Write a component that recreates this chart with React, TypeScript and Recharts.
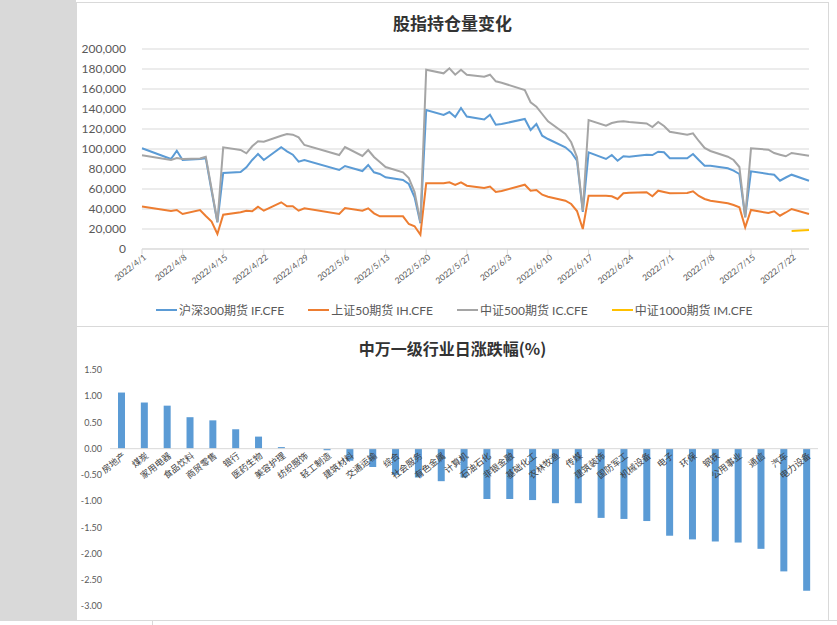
import React from 'react';
import {
  LineChart,
  Line,
  BarChart,
  Bar,
  XAxis,
  YAxis,
  CartesianGrid,
  ReferenceLine,
} from 'recharts';

const FONT = "Lato, 'Noto Sans CJK SC', sans-serif";
const CJK = "'Noto Sans CJK SC', sans-serif";
const AXIS_TEXT = '#595959';
const GRID = '#d9d9d9';
const LABEL_ANGLE = -38;

// 交易日
const tradeDates = [
  '2022/4/1', '2022/4/6', '2022/4/7', '2022/4/8', '2022/4/11', '2022/4/12', '2022/4/13', '2022/4/14', '2022/4/15',
  '2022/4/18', '2022/4/19', '2022/4/20', '2022/4/21', '2022/4/22', '2022/4/25', '2022/4/26', '2022/4/27', '2022/4/28', '2022/4/29',
  '2022/5/5', '2022/5/6', '2022/5/9', '2022/5/10', '2022/5/11', '2022/5/12', '2022/5/13', '2022/5/16', '2022/5/17',
  '2022/5/18', '2022/5/19', '2022/5/20', '2022/5/23', '2022/5/24', '2022/5/25', '2022/5/26', '2022/5/27', '2022/5/30', '2022/5/31',
  '2022/6/1', '2022/6/2', '2022/6/6', '2022/6/7', '2022/6/8', '2022/6/9', '2022/6/10', '2022/6/13', '2022/6/14', '2022/6/15',
  '2022/6/16', '2022/6/17', '2022/6/20', '2022/6/21', '2022/6/22', '2022/6/23', '2022/6/24', '2022/6/27', '2022/6/28', '2022/6/29', '2022/6/30',
  '2022/7/1', '2022/7/4', '2022/7/5', '2022/7/6', '2022/7/7', '2022/7/8', '2022/7/11', '2022/7/12', '2022/7/13', '2022/7/14',
  '2022/7/15', '2022/7/18', '2022/7/19', '2022/7/20', '2022/7/21', '2022/7/22', '2022/7/25',
];

// 沪深300期货 IF.CFE
const ifOI = [
  100700, 90000, 98300, 89000, 90000, 90700, 58000, 26700, 76000,
  77000, 81700, 89000, 95000, 89000, 101700, 97700, 94300, 87300, 89000,
  79000, 83000, 78000, 84000, 76700, 75000, 71700, 69000, 65000,
  51700, 25700, 139000, 134000, 137000, 132000, 141000, 132500, 129500, 134300,
  124300, 125000, 130000, 119000, 125000, 113300, 110000, 101700, 96700, 88300,
  37000, 96700, 90000, 94000, 88300, 92700, 92300, 94300, 94000, 97300, 96700,
  90700, 90700, 95000, 89000, 83300, 83300, 80700, 78300, 75000, 32000,
  77700, 75000, 74300, 68300, 71500, 74300, 68300,
];

// 上证50期货 IH.CFE
const ihOI = [
  42500, 38000, 39000, 35000, 39000, 33000, 27500, 15000, 34300,
  36700, 38300, 37700, 42300, 38300, 46700, 42700, 42700, 38300, 40700,
  35000, 41000, 38300, 40700, 35700, 32700, 32700, 32700, 25000,
  22700, 14300, 65700, 65700, 66700, 64000, 66700, 63300, 61000, 62500,
  57000, 58000, 64300, 58300, 59000, 54300, 52300, 48300, 45000, 38000,
  20000, 53300, 53300, 52700, 50000, 55700, 56300, 56700, 52700, 58300, 57000,
  55700, 56000, 57700, 53000, 50000, 48300, 45700, 44000, 41700, 21700,
  39000, 36000, 37700, 33300, 36500, 40000, 35000,
];

// 中证500期货 IC.CFE
const icOI = [
  93700, 89000, 91000, 90000, 90500, 92300, 60000, 27000, 101700,
  99000, 95700, 102700, 107700, 107300, 113300, 115000, 114300, 111700, 104000,
  94000, 102000, 93000, 99000, 92000, 87000, 82000, 76700, 71000,
  57000, 27000, 179300, 175700, 180700, 174300, 179300, 174300, 172300, 174300,
  167700, 166300, 159000, 146700, 142300, 135000, 127700, 115000, 106700, 91700,
  38300, 129000, 123300, 126000, 127300, 127700, 127000, 125500, 122000, 127000, 123000,
  117300, 114300, 115700, 108000, 101000, 98000, 92300, 89000, 82000, 31700,
  100700, 99300, 96000, 94300, 92700, 96000, 93300,
];

// 中证1000期货 IM.CFE（7/22 上市）
const imDates = ['2022/7/22', '2022/7/25'];
const imOI = [18000, 19000];

const xTickDates = [
  '2022/4/1', '2022/4/8', '2022/4/15', '2022/4/22', '2022/4/29', '2022/5/6', '2022/5/13', '2022/5/20', '2022/5/27',
  '2022/6/3', '2022/6/10', '2022/6/17', '2022/6/24', '2022/7/1', '2022/7/8', '2022/7/15', '2022/7/22',
];
const oiTicks = [0, 20000, 40000, 60000, 80000, 100000, 120000, 140000, 160000, 180000, 200000];

// 申万一级行业
const industries = [
  '房地产', '煤炭', '家用电器', '食品饮料', '商贸零售', '银行', '医药生物', '美容护理', '纺织服饰', '轻工制造',
  '建筑材料', '交通运输', '综合', '社会服务', '有色金属', '计算机', '石油石化', '非银金融', '基础化工', '农林牧渔',
  '传媒', '建筑装饰', '国防军工', '机械设备', '电子', '环保', '钢铁', '公用事业', '通信', '汽车', '电力设备',
];
const industryChg = [
  1.07, 0.88, 0.82, 0.6, 0.54, 0.37, 0.23, 0.03, 0.0, -0.03,
  -0.23, -0.35, -0.5, -0.55, -0.62, -0.55, -0.96, -0.96, -0.98, -1.04,
  -1.04, -1.32, -1.34, -1.38, -1.66, -1.73, -1.77, -1.79, -1.91, -2.34, -2.71,
];
const chgTicks = [-3, -2.5, -2, -1.5, -1, -0.5, 0, 0.5, 1, 1.5];

const dayIndex = (s: string) => {
  const [y, m, d] = s.split('/').map(Number);
  return Math.round((Date.UTC(y, m - 1, d) - Date.UTC(2022, 3, 1)) / 86400000);
};

const lineData = tradeDates.map((d, i) => {
  const k = imDates.indexOf(d);
  return {
    day: dayIndex(d),
    IF: ifOI[i],
    IH: ihOI[i],
    IC: icOI[i],
    IM: k >= 0 ? imOI[k] : null,
  };
});
const xTicks = xTickDates.map(dayIndex);
const tickLabel: Record<number, string> = {};
xTickDates.forEach((d) => (tickLabel[dayIndex(d)] = d));

const barData = industries.map((name, i) => ({ name, chg: industryChg[i] }));

const series = [
  { key: 'IF', name: '沪深300期货 IF.CFE', color: '#5b9bd5' },
  { key: 'IH', name: '上证50期货 IH.CFE', color: '#ed7d31' },
  { key: 'IC', name: '中证500期货 IC.CFE', color: '#a5a5a5' },
  { key: 'IM', name: '中证1000期货 IM.CFE', color: '#ffc000' },
];

// bar chart plot box
const BAR_TOP = 44;
const BAR_H = 236;
const zeroY = BAR_TOP + (BAR_H * 1.5) / 4.5;

const DateTick = (props: any) => {
  const { x, y, payload } = props;
  return (
    <g transform={`translate(${x + 3},${y})`}>
      <text
        x={0}
        y={0}
        dy={3}
        textAnchor="end"
        transform={`rotate(${LABEL_ANGLE})`}
        fontSize={8.5}
        fill={AXIS_TEXT}
        fontFamily={FONT}
      >
        {tickLabel[payload.value]}
      </text>
    </g>
  );
};

const IndustryTick = (props: any) => {
  const { x, payload } = props;
  return (
    <g transform={`translate(${x + 3},${zeroY + 6})`}>
      <text
        x={0}
        y={0}
        dy={3}
        textAnchor="end"
        transform={`rotate(${LABEL_ANGLE})`}
        fontSize={9}
        fill="#404040"
        fontFamily={CJK}
      >
        {payload.value}
      </text>
    </g>
  );
};

const box = (top: number, height: number): React.CSSProperties => ({
  position: 'absolute',
  left: 76,
  top,
  width: 753,
  height,
  background: '#fff',
  border: `1px solid ${GRID}`,
  boxSizing: 'border-box',
});

const titleStyle = (top: number, size: number): React.CSSProperties => ({
  position: 'absolute',
  left: 0,
  top,
  width: '100%',
  textAlign: 'center',
  fontFamily: CJK,
  fontWeight: 700,
  fontSize: size,
  color: '#333',
});

export default function App() {
  return (
    <div style={{ position: 'absolute', left: 0, top: 0, width: 837, height: 625, background: '#fff', overflow: 'hidden' }}>
      {/* sheet background */}
      <div style={{ position: 'absolute', left: 0, top: 0, width: 76, height: 620, background: '#d9d9d9' }} />
      <div style={{ position: 'absolute', left: 0, top: 620, width: 837, height: 1, background: GRID }} />
      <div style={{ position: 'absolute', left: 152, top: 620, width: 1, height: 5, background: GRID }} />

      {/* 股指持仓量变化 */}
      <div style={box(2, 325)}>
        <div style={titleStyle(7, 17)}>股指持仓量变化</div>
        <div style={{ position: 'absolute', left: -1, top: -2 }}>
          <LineChart
            width={753}
            height={327}
            data={lineData}
            margin={{ top: 48, right: 20, bottom: 0, left: 0 }}
          >
            <CartesianGrid vertical={false} stroke={GRID} />
            <XAxis
              dataKey="day"
              type="number"
              domain={[0, 115]}
              ticks={xTicks}
              interval={0}
              height={79}
              tickSize={5}
              tickMargin={2}
              axisLine={{ stroke: GRID }}
              tickLine={{ stroke: GRID }}
              tick={<DateTick />}
            />
            <YAxis
              domain={[0, 200000]}
              ticks={oiTicks}
              interval={0}
              width={66}
              axisLine={false}
              tickLine={false}
              tickSize={6}
              tickMargin={10}
              tick={{ fontSize: 12, fill: AXIS_TEXT, fontFamily: FONT }}
              tickFormatter={(v: number) => v.toLocaleString('en-US')}
            />
            {series.map((s) => (
              <Line
                key={s.key}
                type="linear"
                dataKey={s.key}
                name={s.name}
                stroke={s.color}
                strokeWidth={2}
                dot={false}
                isAnimationActive={false}
              />
            ))}
          </LineChart>
        </div>
        <div
          style={{
            position: 'absolute',
            left: 79,
            top: 298,
            display: 'flex',
            alignItems: 'center',
            fontFamily: FONT,
            fontSize: 12,
            color: AXIS_TEXT,
          }}
        >
          {series.map((s) => (
            <div key={s.key} style={{ display: 'flex', alignItems: 'center', marginRight: 24 }}>
              <div style={{ width: 21, height: 2, background: s.color, marginRight: 2 }} />
              <span>{s.name}</span>
            </div>
          ))}
        </div>
      </div>

      {/* 申万一级行业日涨跌幅 */}
      <div style={box(326, 295)}>
        <div style={titleStyle(9, 16)}>中万一级行业日涨跌幅(%)</div>
        <div style={{ position: 'absolute', left: -1, top: -1 }}>
          <BarChart
            width={753}
            height={293}
            data={barData}
            margin={{ top: BAR_TOP, right: 11, bottom: 12, left: 0 }}
          >
            <XAxis
              dataKey="name"
              interval={0}
              height={1}
              axisLine={false}
              tickLine={false}
              tick={<IndustryTick />}
            />
            <YAxis
              domain={[-3, 1.5]}
              ticks={chgTicks}
              interval={0}
              width={34}
              axisLine={false}
              tickLine={false}
              tickSize={6}
              tickMargin={2}
              tick={{ fontSize: 9, fill: AXIS_TEXT, fontFamily: FONT }}
              tickFormatter={(v: number) => v.toFixed(2)}
            />
            <ReferenceLine y={0} stroke={GRID} />
            <Bar dataKey="chg" fill="#5b9bd5" barSize={7} isAnimationActive={false} />
          </BarChart>
        </div>
      </div>
    </div>
  );
}
